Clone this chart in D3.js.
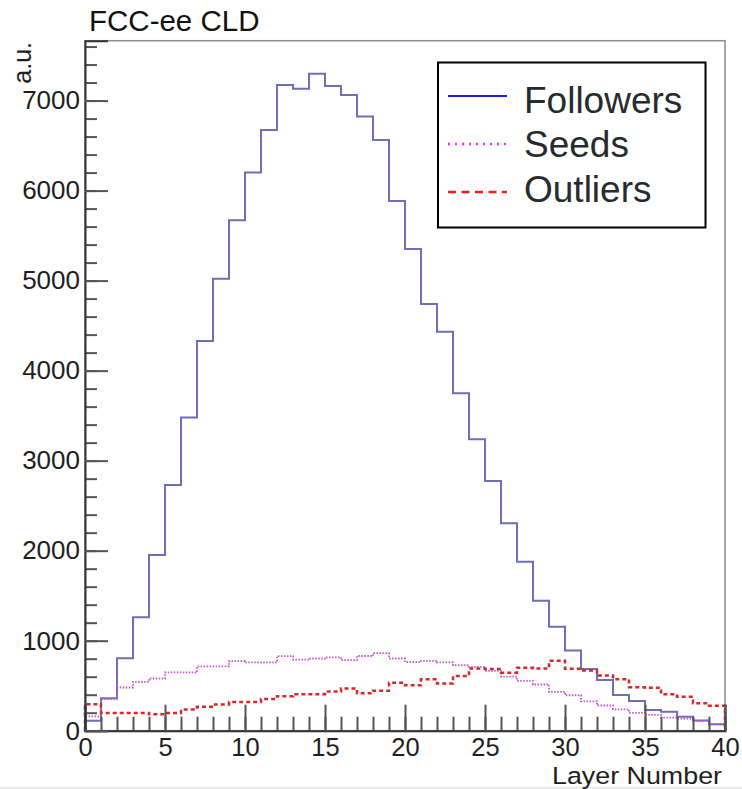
<!DOCTYPE html>
<html>
<head>
<meta charset="utf-8">
<script src="https://cdn.jsdelivr.net/npm/d3@7"></script>
<style>
  html, body { margin: 0; padding: 0; background: #fff; }
  svg { display: block; font-family: "Liberation Sans", Arial, sans-serif; }
</style>
</head>
<body>
<div id="chart"></div>
<script>
// Bin contents per layer (bins 0..39)
const followers = [110, 360, 804, 1260, 1952, 2730, 3480, 4330, 5020, 5670,
                   6200, 6674, 7174, 7130, 7297, 7163, 7063, 6822, 6563, 5883,
                   5352, 4741, 4433, 3749, 3238, 2774, 2304, 1878, 1444, 1156,
                   890, 685, 562, 396, 331, 229, 210, 155, 114, 73];
const seeds = [160, 350, 480, 543, 580, 647, 647, 715, 715, 772,
               758, 758, 828, 789, 802, 815, 785, 830, 862, 802,
               762, 776, 758, 728, 709, 665, 600, 554, 513, 431,
               394, 325, 280, 237, 198, 176, 145, 135, 109, 70];
const outliers = [295, 198, 198, 198, 183, 198, 235, 265, 290, 318,
                  318, 352, 383, 405, 405, 435, 470, 416, 444, 533,
                  505, 572, 524, 607, 690, 685, 645, 700, 690, 776,
                  688, 668, 612, 572, 483, 478, 406, 376, 305, 278];

const xMajor = [0, 5, 10, 15, 20, 25, 30, 35, 40];
const xMinor = d3.range(0, 41, 1);
const yMajor = [0, 1000, 2000, 3000, 4000, 5000, 6000, 7000];
const yMinor = d3.range(0, 7601, 200);

const seriesNames = ["Followers", "Seeds", "Outliers"];

const W = 742, H = 789;
const frame = { left: 85, right: 725, top: 40.7, bottom: 730.7 };

const svg = d3.select("#chart").append("svg")
    .attr("width", W)
    .attr("height", H);

svg.append("rect").attr("width", W).attr("height", H).attr("fill", "#fff");
// thin grey strip at the very bottom of the screenshot
svg.append("rect").attr("x", 0).attr("y", 786.5).attr("width", W).attr("height", 2.5).attr("fill", "#ececec");

const x = d3.scaleLinear().domain([0, 40]).range([frame.left, frame.right]);
const y = d3.scaleLinear().domain([0, 7665]).range([frame.bottom, frame.top]);

// frame (top and right sides)
svg.append("rect")
    .attr("x", x(0)).attr("y", y(7665))
    .attr("width", x(40) - x(0)).attr("height", y(0) - y(7665))
    .attr("fill", "none")
    .attr("stroke", "#8a8a8a")
    .attr("stroke-width", 1.5);

// step histograms
function stepPoints(vals) {
    const pts = [[0, 0]];
    vals.forEach((v, i) => pts.push([i, v]));
    pts.push([vals.length, vals[vals.length - 1]]);
    pts.push([vals.length, 0]);
    return pts;
}
const step = d3.line()
    .x(d => x(d[0]))
    .y(d => y(d[1]))
    .curve(d3.curveStepAfter);

const plot = svg.append("g");
plot.append("path")
    .datum(stepPoints(followers))
    .attr("fill", "none")
    .attr("stroke", "#6e6eb9")
    .attr("stroke-width", 2)
    .attr("d", step);
plot.append("path")
    .datum(stepPoints(seeds))
    .attr("fill", "none")
    .attr("stroke", "#c452d4")
    .attr("stroke-width", 1.8)
    .attr("stroke-dasharray", "1.5,1.5")
    .attr("d", step);
plot.append("path")
    .datum(stepPoints(outliers))
    .attr("fill", "none")
    .attr("stroke", "#d42a2a")
    .attr("stroke-width", 2.5)
    .attr("stroke-dasharray", "4,3")
    .attr("d", step);

// axes
function styleAxis(g, size) {
    g.selectAll(".tick line").attr("stroke", "#555").attr("stroke-width", 2);
    g.selectAll(".tick text")
        .attr("fill", "#1e1e1e")
        .attr("font-size", size)
        .attr("font-family", "\"Liberation Sans\", Arial, sans-serif");
}

const xMinorG = svg.append("g")
    .attr("transform", `translate(0,${frame.bottom})`)
    .call(d3.axisBottom(x).tickValues(xMinor).tickSize(-14).tickFormat(""));
xMinorG.select(".domain").remove();
styleAxis(xMinorG, 25);

const xAxisG = svg.append("g")
    .attr("transform", `translate(0,${frame.bottom})`)
    .call(d3.axisBottom(x).tickValues(xMajor).tickSize(-26).tickPadding(7).tickFormat(d3.format("d")));
xAxisG.select(".domain").attr("stroke", "#333").attr("stroke-width", 2);
styleAxis(xAxisG, 25.5);

const yMinorG = svg.append("g")
    .attr("transform", `translate(${frame.left},0)`)
    .call(d3.axisLeft(y).tickValues(yMinor).tickSize(-12).tickFormat(""));
yMinorG.select(".domain").remove();
styleAxis(yMinorG, 26);

const yAxisG = svg.append("g")
    .attr("transform", `translate(${frame.left},0)`)
    .call(d3.axisLeft(y).tickValues(yMajor).tickSize(-23).tickPadding(5).tickFormat(d3.format("d")));
yAxisG.select(".domain").attr("stroke", "#333").attr("stroke-width", 2);
styleAxis(yAxisG, 26);

// titles
svg.append("text")
    .attr("x", 89).attr("y", 31)
    .attr("font-size", 29.5)
    .attr("fill", "#111")
    .text("FCC-ee CLD");

svg.append("text")
    .attr("transform", "translate(31,42) rotate(-90)")
    .attr("text-anchor", "end")
    .attr("font-size", 25)
    .attr("fill", "#1e1e1e")
    .text("a.u.");

svg.append("text")
    .attr("x", 552).attr("y", 783.5)
    .attr("font-size", 24.5)
    .attr("textLength", 170)
    .attr("lengthAdjust", "spacingAndGlyphs")
    .attr("fill", "#1e1e1e")
    .text("Layer Number");

// legend
const legend = svg.append("g");
legend.append("rect")
    .attr("x", 438).attr("y", 62.5)
    .attr("width", 267.5).attr("height", 165)
    .attr("fill", "#fff")
    .attr("stroke", "#000")
    .attr("stroke-width", 2);

const legendStyles = [
    { color: "#1a1aff", width: 2, dash: null },
    { color: "#ff22ff", width: 2.5, dash: "2,5" },
    { color: "#ff1a1a", width: 2.5, dash: "8,5.5" }
];
const legendRow = legend.selectAll("g.row")
    .data(seriesNames)
    .enter().append("g")
    .attr("class", "row")
    .attr("transform", (d, i) => `translate(0,${96 + i * 48})`);

legendRow.append("line")
    .attr("x1", 448).attr("x2", 507)
    .attr("y1", 0).attr("y2", 0)
    .attr("stroke", (d, i) => legendStyles[i].color)
    .attr("stroke-width", (d, i) => legendStyles[i].width)
    .attr("stroke-dasharray", (d, i) => legendStyles[i].dash);

legendRow.append("text")
    .attr("x", 524)
    .attr("y", (d, i) => [17, 13, 10][i])
    .attr("font-size", 37)
    .attr("fill", "#262b2e")
    .text(d => d);
</script>
</body>
</html>
